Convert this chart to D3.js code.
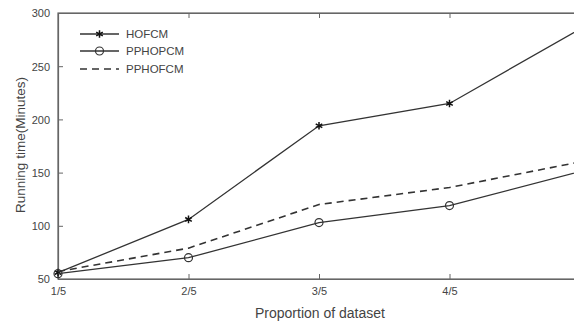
<!DOCTYPE html>
<html>
<head>
<meta charset="utf-8">
<script src="https://cdn.jsdelivr.net/npm/d3@7"></script>
<style>
    body { margin: 0; background: #fff; }
    svg { display: block; font-family: "Liberation Sans", Arial, sans-serif; }
</style>
</head>
<body>
<script>
const categories = ['1/5', '2/5', '3/5', '4/5', '5/5'];
const hofcm = [56, 106, 194, 215, 285];
const pphopcm = [55, 70, 103, 119, 151];
const pphofcm = [57, 79, 120, 136, 160];
const yTicks = [50, 100, 150, 200, 250, 300];

const width = 574, height = 323;
// the right part of the plot box falls just outside the picture
const box = { left: 58, right: 580, top: 13, bottom: 279 };
const ink = '#333';
const textColor = '#444';

const svg = d3.select('body')
    .append('svg')
    .attr('width', width)
    .attr('height', height);

const x = d3.scalePoint()
    .domain(categories)
    .range([box.left, box.right]);

const y = d3.scaleLinear()
    .domain([50, 300])
    .range([box.bottom, box.top]);

// frame
svg.append('rect')
    .attr('x', box.left)
    .attr('y', box.top)
    .attr('width', box.right - box.left)
    .attr('height', box.bottom - box.top)
    .attr('fill', 'none')
    .attr('stroke', '#666')
    .attr('stroke-width', 1.2);

// axes with inward ticks
const xAxis = svg.append('g')
    .attr('transform', `translate(0,${box.bottom})`)
    .call(d3.axisBottom(x).tickSizeInner(-5).tickSizeOuter(0).tickPadding(8).tickFormat(d => d === '5/5' ? '' : d));
const xTop = svg.append('g')
    .attr('transform', `translate(0,${box.top})`)
    .call(d3.axisTop(x).tickSizeInner(-5).tickSizeOuter(0).tickFormat(''));
const yAxis = svg.append('g')
    .attr('transform', `translate(${box.left},0)`)
    .call(d3.axisLeft(y).tickValues(yTicks).tickSizeInner(-5).tickSizeOuter(0).tickPadding(8));
const yRight = svg.append('g')
    .attr('transform', `translate(${box.right},0)`)
    .call(d3.axisRight(y).tickValues(yTicks).tickSizeInner(-5).tickSizeOuter(0).tickFormat(''));

[xAxis, xTop, yAxis, yRight].forEach(g => {
    g.select('.domain').attr('stroke', '#666').attr('stroke-width', 1.2);
    g.selectAll('.tick line').attr('stroke', '#666');
    g.selectAll('.tick text')
        .attr('fill', textColor)
        .style('font-size', '11px');
});
yAxis.selectAll('.tick text').attr('dy', '0.35em');

// axis titles
svg.append('text')
    .attr('x', 320)
    .attr('y', 318)
    .attr('text-anchor', 'middle')
    .attr('fill', textColor)
    .style('font-size', '14px')
    .text('Proportion of dataset');

svg.append('text')
    .attr('transform', `translate(25,${(box.top + box.bottom) / 2 - 1}) rotate(-90)`)
    .attr('text-anchor', 'middle')
    .attr('fill', textColor)
    .style('font-size', '13.5px')
    .text('Running time(Minutes)');

const line = d3.line()
    .x((d, i) => x(categories[i]))
    .y(d => y(d));

const series = [
    { name: 'HOFCM', values: hofcm, dash: null, marker: 'star' },
    { name: 'PPHOPCM', values: pphopcm, dash: null, marker: 'circle' },
    { name: 'PPHOFCM', values: pphofcm, dash: '7,5', marker: null },
];

function drawMarker(g, type, cx, cy) {
    if (type === 'star') {
        g.append('path')
            .attr('d', d3.symbol(d3.symbolAsterisk, 40)())
            .attr('transform', `translate(${cx},${cy})`)
            .attr('fill', 'none')
            .attr('stroke', '#111')
            .attr('stroke-width', 1.5);
    } else if (type === 'circle') {
        g.append('circle')
            .attr('cx', cx)
            .attr('cy', cy)
            .attr('r', 4)
            .attr('fill', 'none')
            .attr('stroke', ink)
            .attr('stroke-width', 1.2);
    }
}

series.forEach(s => {
    const g = svg.append('g');
    g.append('path')
        .datum(s.values)
        .attr('d', line)
        .attr('fill', 'none')
        .attr('stroke', ink)
        .attr('stroke-width', s.dash ? 1.6 : 1.3)
        .attr('stroke-dasharray', s.dash);
    s.values.forEach((v, i) => drawMarker(g, s.marker, x(categories[i]), y(v)));
});

// legend
const legend = svg.append('g');
const legendRows = [34, 51, 69];
series.forEach((s, i) => {
    const ly = legendRows[i];
    legend.append('line')
        .attr('x1', 80).attr('x2', 119)
        .attr('y1', ly).attr('y2', ly)
        .attr('stroke', ink)
        .attr('stroke-width', s.dash ? 1.6 : 1.3)
        .attr('stroke-dasharray', s.dash);
    drawMarker(legend, s.marker, 99.5, ly);
    legend.append('text')
        .attr('x', 126)
        .attr('y', ly)
        .attr('dy', '0.35em')
        .attr('fill', textColor)
        .style('font-size', '11.5px')
        .text(s.name);
});
</script>
</body>
</html>
